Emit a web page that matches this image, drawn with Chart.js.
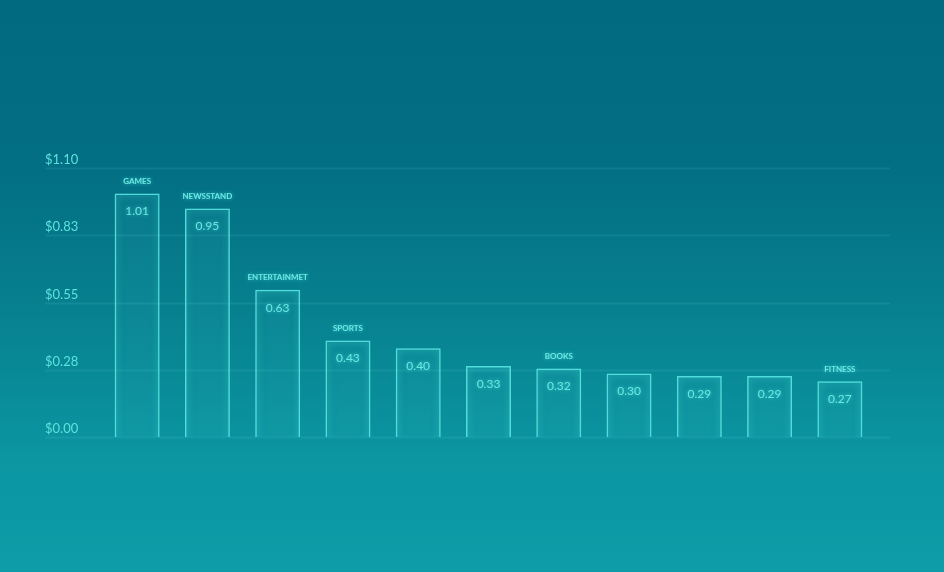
<!DOCTYPE html>
<html lang="en">

<head>
    <meta charset="UTF-8">
    <title>Revenue by Category</title>
    <script src="https://cdn.jsdelivr.net/npm/chart.js@4.4.1/dist/chart.umd.min.js"></script>
    <style>
        html, body { margin: 0; padding: 0; }
        #wrap { width: 944px; height: 572px; position: relative; }
    </style>
</head>

<body>
    <div id="wrap"><canvas id="chart"></canvas></div>
    <script>
        // values
        const categories = ['GAMES', 'NEWSSTAND', 'ENTERTAINMET', 'SPORTS', '', '', 'BOOKS', '', '', '', 'FITNESS'];
        const values = [1.01, 0.95, 0.63, 0.43, 0.40, 0.33, 0.32, 0.30, 0.29, 0.29, 0.27];
        const tickLabels = ['$0.00', '$0.28', '$0.55', '$0.83', '$1.10'];

        const textColor = '#5ce2de';

        // teal gradient behind everything
        const background = {
            id: 'background',
            beforeDraw(chart) {
                const { ctx, width, height } = chart;
                const g = ctx.createLinearGradient(0, 0, 0, height);
                g.addColorStop(0, '#016a80');
                g.addColorStop(0.3, '#036f84');
                g.addColorStop(0.55, '#07818f');
                g.addColorStop(0.8, '#0b96a2');
                g.addColorStop(1, '#0e9da8');
                ctx.save();
                ctx.fillStyle = g;
                ctx.fillRect(0, 0, width, height);
                ctx.restore();
            }
        };

        // long faint grid lines + glow on the bars
        const glow = {
            id: 'glow',
            beforeDatasetsDraw(chart) {
                const { ctx, scales: { y } } = chart;
                ctx.save();
                ctx.strokeStyle = 'rgba(110,225,225,0.11)';
                ctx.lineWidth = 2;
                y.ticks.forEach(t => {
                    const py = Math.round(y.getPixelForValue(t.value)) + 0.5;
                    ctx.beginPath();
                    ctx.moveTo(45, py);
                    ctx.lineTo(890, py);
                    ctx.stroke();
                });
                ctx.restore();
                ctx.save();
                ctx.shadowColor = 'rgba(90,245,240,0.7)';
                ctx.shadowBlur = 7;
            },
            afterDatasetsDraw(chart) {
                const { ctx } = chart;
                ctx.restore();
                const meta = chart.getDatasetMeta(0);
                ctx.save();
                ctx.shadowColor = 'rgba(90,245,240,0.6)';
                ctx.shadowBlur = 4;
                ctx.fillStyle = '#6ce8e3';
                ctx.textAlign = 'center';
                ctx.textBaseline = 'middle';
                meta.data.forEach((bar, i) => {
                    ctx.font = '12px Lato';
                    ctx.fillText(values[i].toFixed(2), bar.x, bar.y + 18);
                    if (categories[i]) {
                        ctx.font = 'bold 8px Lato';
                        ctx.fillText(categories[i], bar.x, bar.y - 12);
                    }
                });
                ctx.restore();
            }
        };

        chartIt = () => {
            const ctx = document.getElementById('chart').getContext('2d'),
                myChart = new Chart(ctx, {
                    type: 'bar',
                    data: {
                        labels: categories,
                        datasets: [{
                            data: values,
                            backgroundColor: 'rgba(120,230,230,0.04)',
                            borderColor: 'rgba(90,228,225,0.9)',
                            borderWidth: 1.5,
                            categoryPercentage: 1,
                            barPercentage: 0.64
                        }]
                    },
                    options: {
                        responsive: true,
                        maintainAspectRatio: false,
                        animation: false,
                        layout: {
                            padding: { top: 168, bottom: 135, left: 45, right: 69 }
                        },
                        plugins: {
                            legend: { display: false },
                            tooltip: { enabled: false }
                        },
                        scales: {
                            x: { display: false },
                            y: {
                                // baseline sits a touch above zero in the original artwork
                                min: 0.05,
                                max: 1.11,
                                afterFit(scale) { scale.width = 57; },
                                border: { display: false },
                                grid: { display: false },
                                ticks: {
                                    stepSize: 0.265,
                                    crossAlign: 'far',
                                    padding: 0,
                                    labelOffset: -8,
                                    color: textColor,
                                    font: { family: 'Lato', size: 13 },
                                    callback(value, index) {
                                        return tickLabels[index];
                                    }
                                }
                            }
                        }
                    },
                    plugins: [background, glow]
                });
        };
        chartIt();
    </script>
</body>

</html>
